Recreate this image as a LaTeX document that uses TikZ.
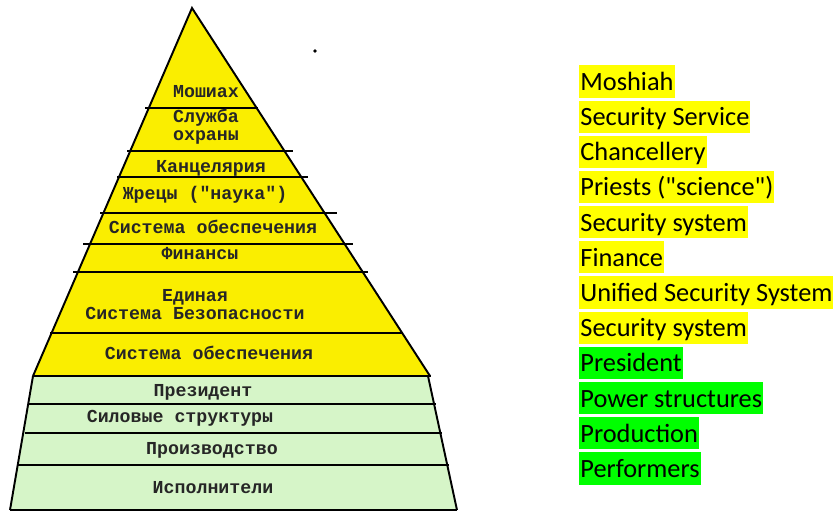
\documentclass[tikz,border=0pt]{standalone}
\usepackage{fontspec}
\usepackage{tikz}
\usetikzlibrary{positioning}
\newfontfamily\pyrfont{Liberation Mono}
\newfontfamily\labfont{Carlito}
\definecolor{pyryellow}{RGB}{250,238,0}
\definecolor{pyrgreen}{RGB}{214,245,200}
\definecolor{hlyellow}{RGB}{255,255,0}
\definecolor{hlgreen}{RGB}{0,255,0}

\begin{document}
\begin{tikzpicture}[x=0.02cm,y=-0.02cm,
    tier/.style={font=\pyrfont\bfseries\fontsize{10.4}{10.3}\selectfont, text=black!85, inner sep=0pt, align=center},
    sep/.style={line width=1.1pt},
    hly/.style={fill=hlyellow, anchor=north west, font=\labfont\fontsize{15}{18}\selectfont,
        inner xsep=0.6pt, inner ysep=0pt, text height=14.3pt, text depth=4pt},
    hlg/.style={hly, fill=hlgreen}]
    \useasboundingbox (0,0) rectangle (838,512);

    % pyramid body
    \fill[pyryellow] (192,8) -- (430,376) -- (33,376) -- cycle;
    \fill[pyrgreen] (33,376) -- (428,376) -- (457,510) -- (10,510) -- cycle;
    \draw[sep] (33,376) -- (192,8) -- (430,376);
    \draw[sep] (33,376) -- (10,510);
    \draw[sep] (428,376) -- (457,510);
    \fill (315,51) circle[radius=1.1pt];

    % tier borders
    \draw[sep] (145,108) -- (258,108);
    \draw[sep] (127,151) -- (293,151);
    \draw[sep] (117,177) -- (308,177);
    \draw[sep] (100,213) -- (337,213);
    \draw[sep] (83,244) -- (353,244);
    \draw[sep] (73,272) -- (368,272);
    \draw[sep] (50,333) -- (402,333);
    \draw[sep] (33,376) -- (431,376);
    \draw[sep] (29,404) -- (436,404);
    \draw[sep] (25,433) -- (442,433);
    \draw[sep] (18,465) -- (449,465);
    \draw[sep] (10,510) -- (457,510);

    % tier names
    \node[tier] (moshiah) at (206,92) {Мошиах};
    \node[tier] (sluzhba) at (206,127) {Служба\\охраны};
    \node[tier] (kanc) at (211,168) {Канцелярия};
    \node[tier] (zhrecy) at (205,195) {Жрецы ("наука")};
    \node[tier] (obesp) at (213,227) {Система обеспечения};
    \node[tier] (finansy) at (200,254) {Финансы};
    \node[tier] (edinaya) at (195,305) {Единая\\Система Безопасности};
    \node[tier] (obesptwo) at (209,353) {Система обеспечения};
    \node[tier] (prezident) at (203,392) {Президент};
    \node[tier] (silovye) at (180,418) {Силовые структуры};
    \node[tier] (proizv) at (212,450) {Производство};
    \node[tier] (ispoln) at (213,488) {Исполнители};

    % translations
    \node[hly] (moshiahen) at (579,65) {Moshiah};
    \node[hly] (sluzhbaen) at (579,100.2) {Security Service};
    \node[hly] (kancen) at (579,135.4) {Chancellery};
    \node[hly] (zhrecyen) at (579,170.5) {Priests ("science")};
    \node[hly] (obespen) at (579,205.7) {Security system};
    \node[hly] (finansyen) at (579,240.9) {Finance};
    \node[hly] (edinayaen) at (579,276.1) {Unified Security System};
    \node[hly] (obesptwoen) at (579,311.3) {Security system};
    \node[hlg] (prezidenten) at (579,346.4) {President};
    \node[hlg] (silovyeen) at (579,381.6) {Power structures};
    \node[hlg] (proizven) at (579,416.8) {Production};
    \node[hlg] (ispolnen) at (579,452) {Performers};
\end{tikzpicture}
\end{document}
